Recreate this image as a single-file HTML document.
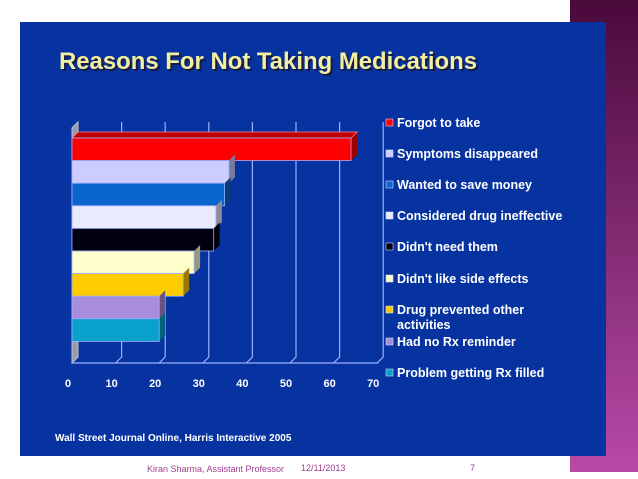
<!DOCTYPE html>
<html><head><meta charset="utf-8"><style>
html,body{margin:0;padding:0;background:#fff;width:638px;height:479px;overflow:hidden}
svg{display:block;font-family:"Liberation Sans",sans-serif}
</style></head><body>
<svg width="638" height="479" viewBox="0 0 638 479">
<defs>
<linearGradient id="pg" x1="0" y1="0" x2="0" y2="1"><stop offset="0" stop-color="#4a0a3a"/><stop offset="1" stop-color="#b84aa8"/></linearGradient>
</defs>
<rect x="570" y="0" width="68" height="472" fill="url(#pg)"/>
<rect x="20" y="22" width="586" height="434" fill="#0733a0"/>
<text x="61" y="71" font-size="24" font-weight="bold" fill="#1a1a40" textLength="418" lengthAdjust="spacingAndGlyphs">Reasons For Not Taking Medications</text>
<text x="59" y="69" font-size="24" font-weight="bold" fill="#f3efa0" textLength="418" lengthAdjust="spacingAndGlyphs">Reasons For Not Taking Medications</text>
<g id="plot"></g>
<g id="legend"></g>
<text x="55" y="441" font-size="10" font-weight="bold" fill="#ffffff">Wall Street Journal Online,  Harris Interactive 2005</text>
<text x="147" y="472" font-size="9" fill="#a04090">Kiran Sharma, Assistant Professor</text>
<text x="301" y="471" font-size="9" fill="#a04090">12/11/2013</text>
<text x="470" y="471" font-size="9" fill="#a04090">7</text>
</svg>
<script>
const categories=["Forgot to take","Symptoms disappeared","Wanted to save money","Considered drug ineffective","Didn't need them","Didn't like side effects","Drug prevented other activities","Had no Rx reminder","Problem getting Rx filled"];
const values=[64,36,35,33,32.5,28,25.5,20,20];
const colors=["#ff0000","#ccccff","#0a66cc","#eaeaff","#000010","#ffffcc","#ffcc00","#a98ddd","#0aa0cc"];
const ticks=[0,10,20,30,40,50,60,70];
const NS="http://www.w3.org/2000/svg";
const x0=72,sc=4.36,top0=138,bh=22.6,floorY=363,dx=6,dy=-6;
const xs=v=>x0+v*sc;
const plot=document.getElementById('plot');
function mk(t,a,p){const e=document.createElementNS(NS,t);for(const k in a)e.setAttribute(k,a[k]);(p||plot).appendChild(e);return e;}
let w=mk('polygon',{points:`${x0},${floorY} ${x0+dx},${floorY+dy} ${x0+dx},${122} ${x0},${128}`,fill:'#9a9aa8',stroke:'#c0c0d0'});

let fl=mk('line',{x1:x0,y1:floorY,x2:xs(70)+1,y2:floorY,stroke:'#9ab0ff','stroke-width':1.2});

ticks.forEach(t=>{
  if(t>0){
    const g=mk('polyline',{points:`${xs(t)},${floorY} ${xs(t)+dx},${floorY+dy} ${xs(t)+dx},122`,fill:'none',stroke:'#9ab0ff','stroke-width':1.2});
    
  }
  const tl=mk('text',{x:xs(t)-4,y:387,'font-size':11,'font-weight':'bold',fill:'#fff','text-anchor':'middle'});
  tl.textContent=t;
  
});
function shade(c,f){const n=parseInt(c.slice(1),16);let r=(n>>16)*f,g=((n>>8)&255)*f,b=(n&255)*f;return `rgb(${r|0},${g|0},${b|0})`;}
values.forEach((v,i)=>{
  const y=top0+i*bh,x1=xs(v);
  const g=mk('g',{});
  
  mk('polygon',{points:`${x1},${y} ${x1+dx},${y+dy} ${x1+dx},${y+bh+dy} ${x1},${y+bh}`,fill:shade(colors[i],0.6)},g);
  if(i===0)mk('polygon',{points:`${x0},${y} ${x0+dx},${y+dy} ${x1+dx},${y+dy} ${x1},${y}`,fill:shade(colors[i],0.75),stroke:'#ff8080','stroke-width':0.8},g);
  mk('rect',{x:x0,y:y,width:x1-x0,height:bh,fill:colors[i],stroke:'#9ab0ff','stroke-width':0.8},g);
});
const leg=document.getElementById('legend');
const ly=[123,154,185,216,247,279,310,342,373];
categories.forEach((c,i)=>{
  const g=mk('g',{},leg);
  
  mk('rect',{x:386,y:ly[i]-4,width:7,height:7,fill:colors[i],stroke:'#cfd8ff','stroke-width':0.6},g);
  if(i===6){
    const t1=mk('text',{x:397,y:ly[i]+4,'font-size':12.5,'font-weight':'bold',fill:'#fff'},g);t1.textContent='Drug prevented other';
    const t2=mk('text',{x:397,y:ly[i]+19,'font-size':12.5,'font-weight':'bold',fill:'#fff'},g);t2.textContent='activities';
  } else {
    const t=mk('text',{x:397,y:ly[i]+4,'font-size':12.5,'font-weight':'bold',fill:'#fff'},g);t.textContent=c;
  }
});
</script>
</body></html>
